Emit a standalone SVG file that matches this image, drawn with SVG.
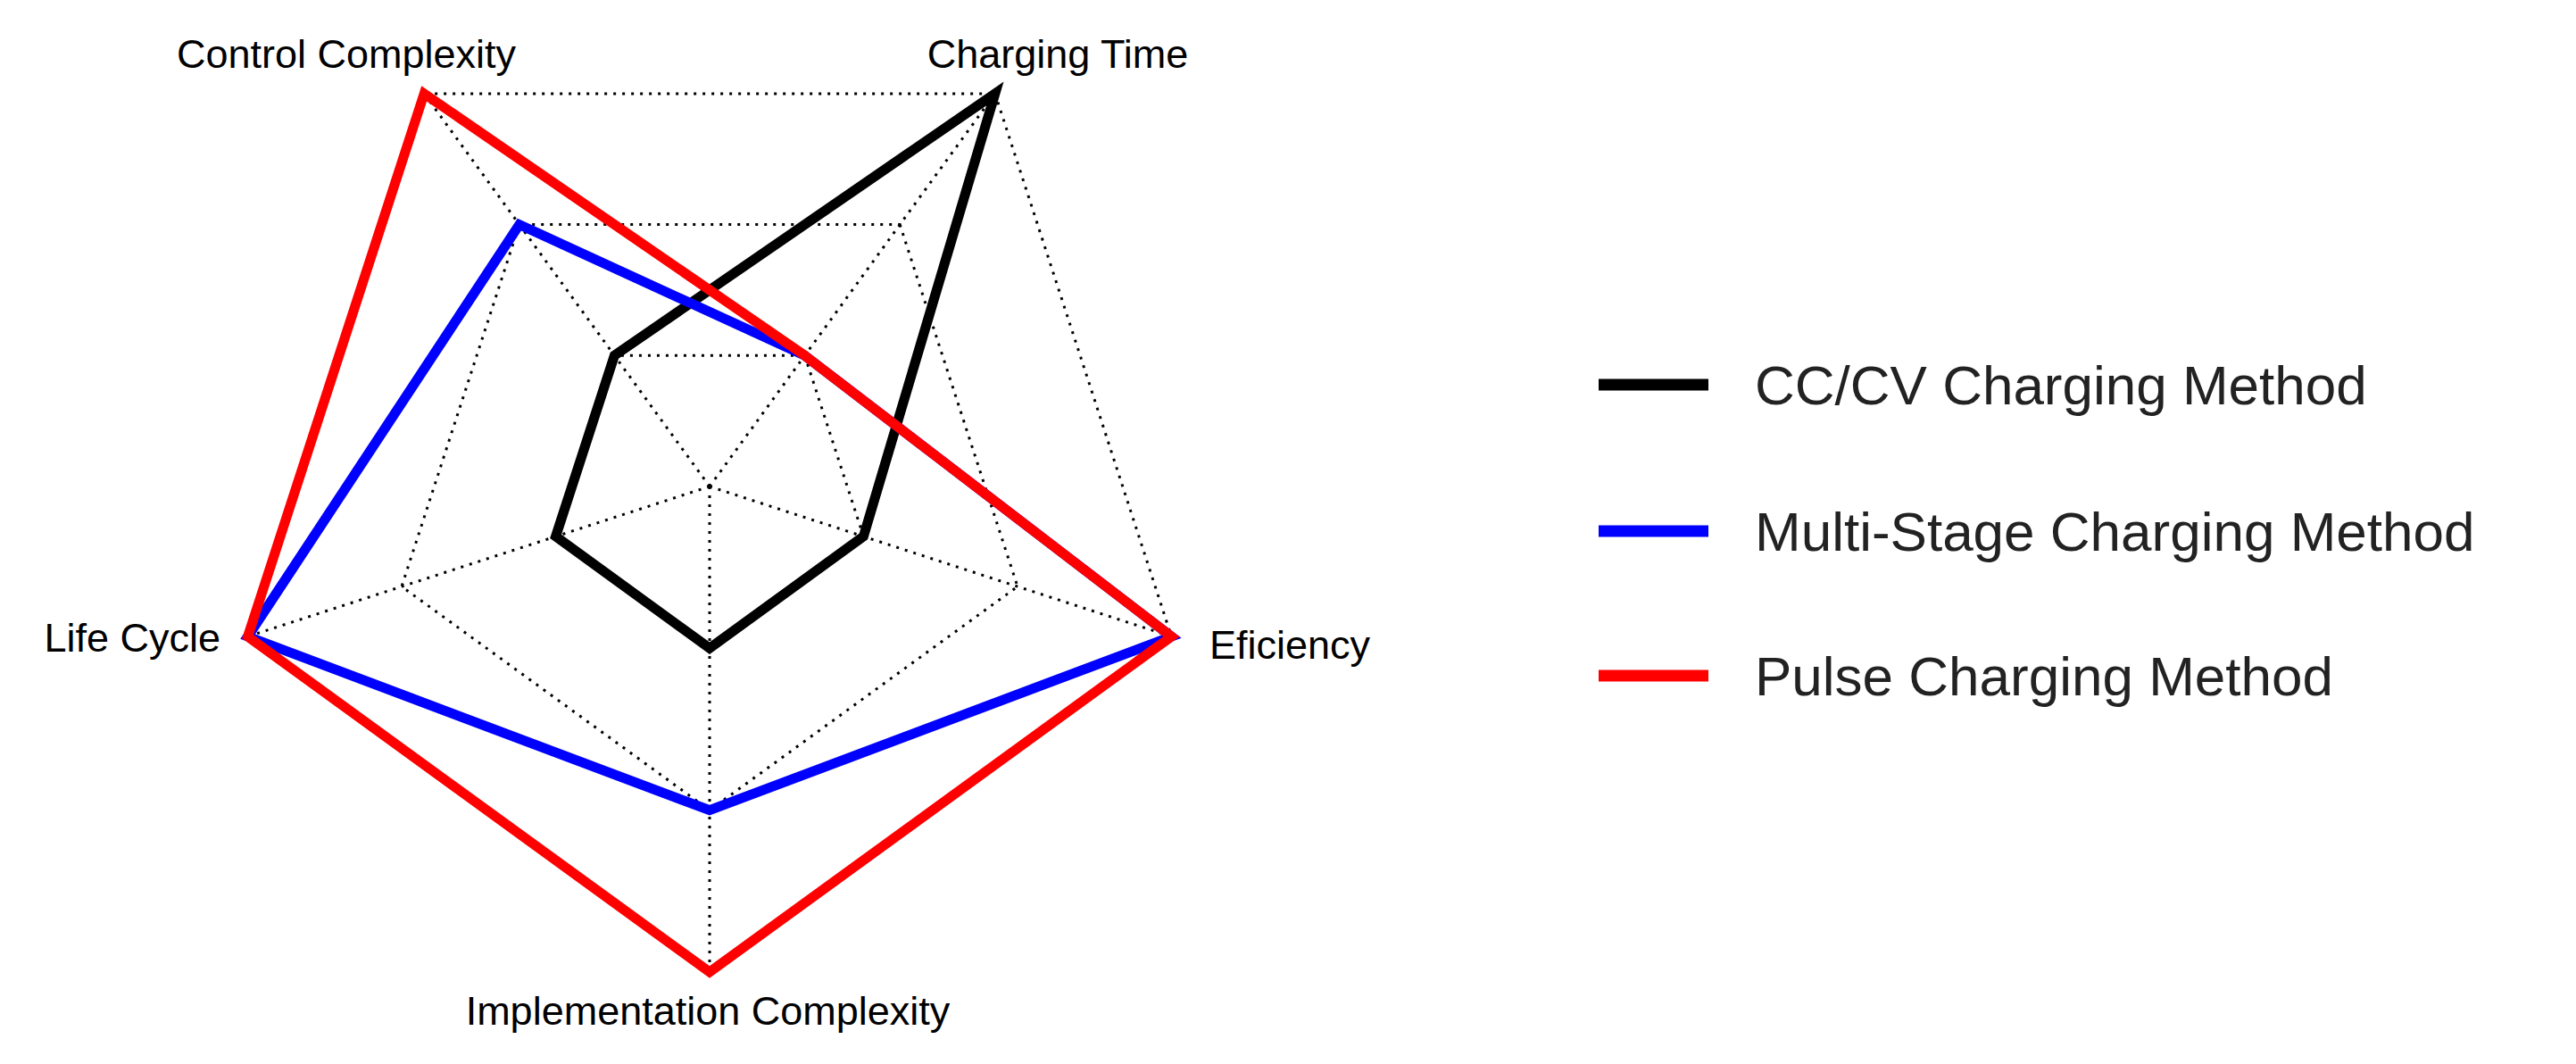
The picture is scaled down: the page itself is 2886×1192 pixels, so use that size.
<svg xmlns="http://www.w3.org/2000/svg" width="2886" height="1192" viewBox="0 0 2886 1192">
<style>
.grid{fill:none;stroke:#000;stroke-width:3;stroke-dasharray:3 7}
.s{fill:none;stroke-width:11;stroke-linejoin:miter}
.lab{font-family:"Liberation Sans",Arial,sans-serif;font-size:45px;fill:#000}
.leg{font-family:"Liberation Sans",Arial,sans-serif;font-size:62px;fill:#222}
</style>
<rect width="2886" height="1192" fill="#fff"/>
<g id="grid">
<polygon class="grid" points="1114.8,104.9 1312.4,713.1 795,1089 277.6,713.1 475.2,104.9"/>
<polygon class="grid" points="1008.2,251.6 1140,657.1 795,907.7 450,657.1 581.8,251.6"/>
<polygon class="grid" points="901.6,398.3 967.4,601 795,726.3 622.6,601 688.4,398.3"/>
<path class="grid" d="M795,545L1114.8,104.9M795,545L1312.4,713.1M795,545L795,1089M795,545L277.6,713.1M795,545L475.2,104.9"/>
</g>
<g id="series">
<polygon id="cccv" class="s" stroke="#000" points="1114.8,104.9 967.4,601 795,726.3 622.6,601 688.4,398.3"/>
<polygon id="multi" class="s" stroke="#0000ff" points="901.6,398.3 1312.4,713.1 795,907.7 277.6,713.1 581.8,251.6"/>
<polygon id="pulse" class="s" stroke="#ff0000" points="901.6,398.3 1312.4,713.1 795,1089 277.6,713.1 475.2,104.9"/>
</g>
<g id="labels">
<text class="lab" x="388" y="76" text-anchor="middle">Control Complexity</text>
<text class="lab" x="1185" y="76" text-anchor="middle">Charging Time</text>
<text class="lab" x="1355" y="738">Eficiency</text>
<text class="lab" x="247" y="730" text-anchor="end">Life Cycle</text>
<text class="lab" x="793" y="1148" text-anchor="middle">Implementation Complexity</text>
</g>
<g id="legend">
<line x1="1791" y1="431" x2="1914" y2="431" stroke="#000" stroke-width="13"/>
<text class="leg" x="1966" y="453">CC/CV Charging Method</text>
<line x1="1791" y1="595" x2="1914" y2="595" stroke="#0000ff" stroke-width="13"/>
<text class="leg" x="1966" y="617">Multi-Stage Charging Method</text>
<line x1="1791" y1="757" x2="1914" y2="757" stroke="#ff0000" stroke-width="13"/>
<text class="leg" x="1966" y="779">Pulse Charging Method</text>
</g>
</svg>
